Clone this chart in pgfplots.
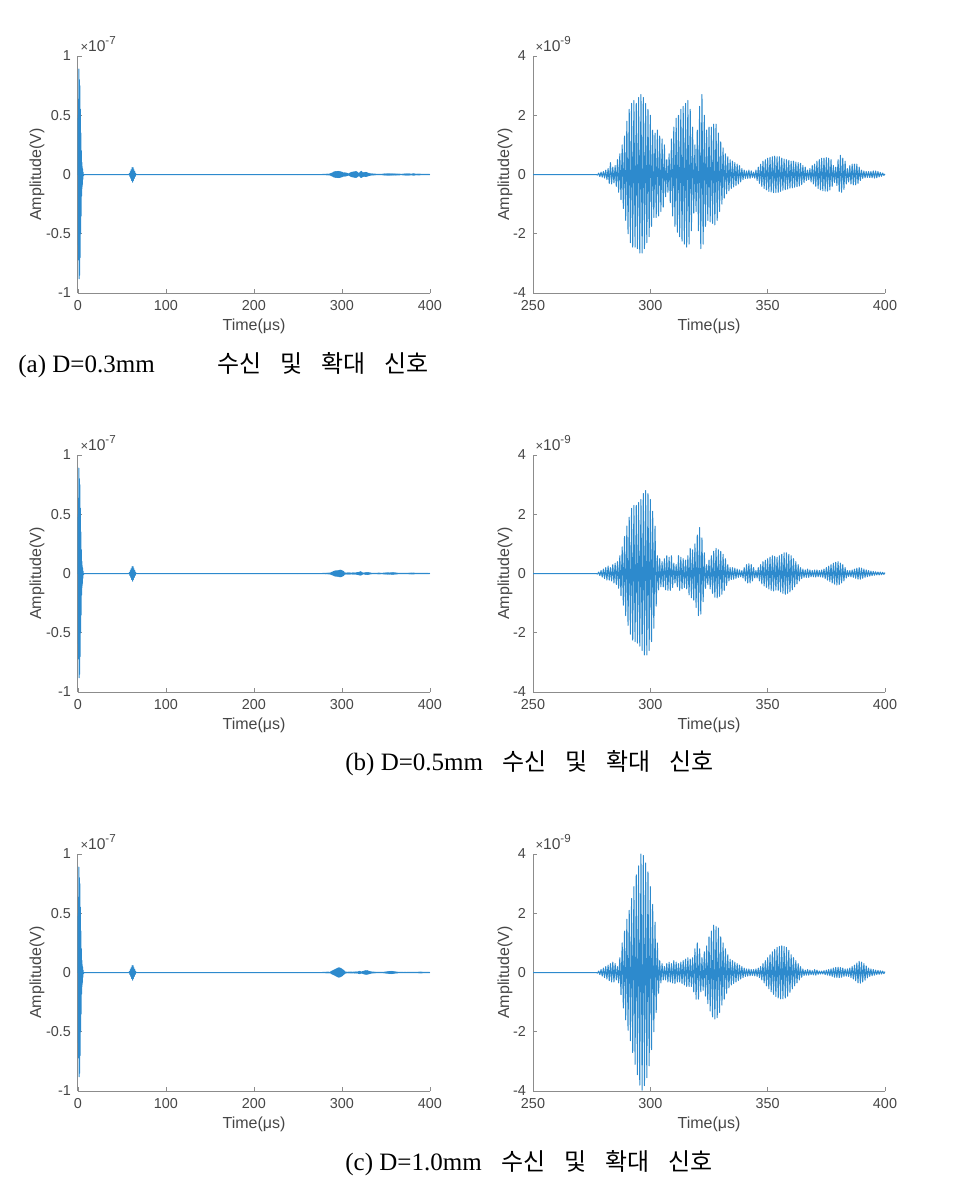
\documentclass[border=0pt]{standalone}
\usepackage{fontspec}
\setmainfont{Liberation Serif}
\newfontfamily\axfont{Liberation Sans}
\newfontfamily\cjk{Noto Sans CJK KR}
\usepackage{pgfplots}
\usepackage{pgfplotstable}
\pgfplotsset{compat=1.18}

\definecolor{sigblue}{RGB}{45,138,205}
\definecolor{axgray}{RGB}{140,140,140}
\definecolor{labgray}{RGB}{70,70,70}

% received signal, 0-7 us and the 62 us packet (x 1e-7 V)
\pgfplotstableread[row sep=\\]{
t v\\
0 0\\ 0.3 0.5\\ 0.6 -0.72\\ 0.9 0.89\\ 1.2 -0.88\\ 1.5 0.8\\ 1.8 -0.85\\ 2.1 0.75\\
2.4 -0.7\\ 2.7 0.55\\ 3.0 -0.5\\ 3.3 0.35\\ 3.6 -0.35\\ 3.9 0.2\\ 4.2 -0.18\\ 4.5 0.1\\
4.8 -0.1\\ 5.1 0.05\\ 5.4 -0.04\\ 5.7 0.02\\ 6 -0.01\\ 7 0\\ 58 0\\
58.5 0.008\\ 59 -0.016\\ 59.5 0.024\\ 60 -0.032\\ 60.5 0.04\\ 61 -0.05\\ 61.5 0.058\\
62 -0.065\\ 62.5 0.058\\ 63 -0.05\\ 63.5 0.04\\ 64 -0.032\\ 64.5 0.024\\ 65 -0.016\\
65.5 0.008\\ 66 0\\ 250 0\\
}\tabL

% zoomed signals 250-400 us (x 1e-9 V)
\pgfplotstableread[row sep=\\]{
t v\\
250 0\\ 276.5 0\\
277 0\\ 277.5 -0.02\\ 278 0.05\\ 278.5 -0.07\\ 279 0.08\\ 279.5 -0.09\\ 280 0.1\\ 280.5 -0.12\\
281 0.15\\ 281.5 -0.17\\ 282 0.2\\ 282.5 -0.3\\ 283 0.4\\ 283.5 -0.32\\ 284 0.25\\ 284.5 -0.28\\
285 0.3\\ 285.5 -0.4\\ 286 0.5\\ 286.5 -0.6\\ 287 0.7\\ 287.5 -0.85\\ 288 1.0\\ 288.5 -1.15\\
289 1.3\\ 289.5 -1.55\\ 290 1.8\\ 290.5 -2.0\\ 291 2.2\\ 291.5 -2.3\\ 292 2.4\\ 292.5 -2.45\\
293 2.5\\ 293.5 -2.45\\ 294 2.4\\ 294.5 -2.5\\ 295 2.6\\ 295.5 -2.65\\ 296 2.7\\ 296.5 -2.65\\
297 2.6\\ 297.5 -2.5\\ 298 2.4\\ 298.5 -2.3\\ 299 2.2\\ 299.5 -2.1\\ 300 2.0\\ 300.5 -1.75\\
301 1.5\\ 301.5 -1.45\\ 302 1.4\\ 302.5 -1.45\\ 303 1.5\\ 303.5 -1.4\\ 304 1.3\\ 304.5 -1.25\\
305 1.2\\ 305.5 -1.1\\ 306 1.0\\ 306.5 -0.75\\ 307 0.5\\ 307.5 -0.6\\ 308 0.7\\ 308.5 -0.95\\
309 1.2\\ 309.5 -1.4\\ 310 1.6\\ 310.5 -1.75\\ 311 1.9\\ 311.5 -1.95\\ 312 2.0\\ 312.5 -2.1\\
313 2.2\\ 313.5 -2.25\\ 314 2.3\\ 314.5 -2.35\\ 315 2.4\\ 315.5 -2.45\\ 316 2.5\\ 316.5 -2.35\\
317 2.2\\ 317.5 -1.9\\ 318 1.6\\ 318.5 -1.3\\ 319 1.0\\ 319.5 -1.25\\ 320 1.5\\ 320.5 -1.9\\
321 2.3\\ 321.5 -2.5\\ 322 2.7\\ 322.5 -2.35\\ 323 2.0\\ 323.5 -1.75\\ 324 1.5\\ 324.5 -1.55\\
325 1.6\\ 325.5 -1.6\\ 326 1.6\\ 326.5 -1.65\\ 327 1.7\\ 327.5 -1.7\\ 328 1.7\\ 328.5 -1.55\\
329 1.4\\ 329.5 -1.25\\ 330 1.1\\ 330.5 -1.0\\ 331 0.9\\ 331.5 -0.8\\ 332 0.7\\ 332.5 -0.65\\
333 0.6\\ 333.5 -0.55\\ 334 0.5\\ 334.5 -0.47\\ 335 0.45\\ 335.5 -0.42\\ 336 0.4\\ 336.5 -0.37\\
337 0.35\\ 337.5 -0.32\\ 338 0.3\\ 338.5 -0.25\\ 339 0.2\\ 339.5 -0.17\\ 340 0.15\\ 340.5 -0.13\\
341 0.12\\ 341.5 -0.13\\ 342 0.15\\ 342.5 -0.13\\ 343 0.12\\ 343.5 -0.1\\ 344 0.08\\ 344.5 -0.12\\
345 0.15\\ 345.5 -0.2\\ 346 0.25\\ 346.5 -0.3\\ 347 0.35\\ 347.5 -0.4\\ 348 0.45\\ 348.5 -0.47\\
349 0.5\\ 349.5 -0.52\\ 350 0.55\\ 350.5 -0.57\\ 351 0.58\\ 351.5 -0.59\\ 352 0.6\\ 352.5 -0.61\\
353 0.62\\ 353.5 -0.61\\ 354 0.6\\ 354.5 -0.6\\ 355 0.6\\ 355.5 -0.57\\ 356 0.55\\ 356.5 -0.53\\
357 0.52\\ 357.5 -0.51\\ 358 0.5\\ 358.5 -0.49\\ 359 0.48\\ 359.5 -0.46\\ 360 0.45\\ 360.5 -0.45\\
361 0.45\\ 361.5 -0.43\\ 362 0.42\\ 362.5 -0.41\\ 363 0.4\\ 363.5 -0.39\\ 364 0.38\\ 364.5 -0.34\\
365 0.3\\ 365.5 -0.27\\ 366 0.25\\ 366.5 -0.2\\ 367 0.15\\ 367.5 -0.17\\ 368 0.2\\ 368.5 -0.25\\
369 0.3\\ 369.5 -0.32\\ 370 0.35\\ 370.5 -0.4\\ 371 0.45\\ 371.5 -0.47\\ 372 0.5\\ 372.5 -0.52\\
373 0.55\\ 373.5 -0.55\\ 374 0.55\\ 374.5 -0.56\\ 375 0.57\\ 375.5 -0.56\\ 376 0.55\\ 376.5 -0.52\\
377 0.5\\ 377.5 -0.4\\ 378 0.3\\ 378.5 -0.27\\ 379 0.25\\ 379.5 -0.37\\ 380 0.5\\ 380.5 -0.57\\
381 0.65\\ 381.5 -0.6\\ 382 0.55\\ 382.5 -0.5\\ 383 0.45\\ 383.5 -0.32\\ 384 0.2\\ 384.5 -0.25\\
385 0.3\\ 385.5 -0.32\\ 386 0.35\\ 386.5 -0.35\\ 387 0.35\\ 387.5 -0.35\\ 388 0.35\\ 388.5 -0.3\\
389 0.25\\ 389.5 -0.2\\ 390 0.15\\ 390.5 -0.13\\ 391 0.12\\ 391.5 -0.11\\ 392 0.1\\ 392.5 -0.1\\
393 0.1\\ 393.5 -0.1\\ 394 0.1\\ 394.5 -0.11\\ 395 0.12\\ 395.5 -0.12\\ 396 0.12\\ 396.5 -0.11\\
397 0.1\\ 397.5 -0.08\\ 398 0.07\\ 398.5 -0.06\\ 399 0.05\\ 399.5 -0.03\\ 400 0.02\\
}\tabA

\pgfplotstableread[row sep=\\]{
t v\\
250 0\\ 276.5 0\\
277 0\\ 277.5 -0.02\\ 278 0.05\\ 278.5 -0.07\\ 279 0.1\\ 279.5 -0.12\\ 280 0.15\\ 280.5 -0.17\\
281 0.2\\ 281.5 -0.22\\ 282 0.25\\ 282.5 -0.22\\ 283 0.2\\ 283.5 -0.25\\ 284 0.3\\ 284.5 -0.32\\
285 0.35\\ 285.5 -0.37\\ 286 0.4\\ 286.5 -0.5\\ 287 0.6\\ 287.5 -0.75\\ 288 0.9\\ 288.5 -1.07\\
289 1.25\\ 289.5 -1.42\\ 290 1.6\\ 290.5 -1.75\\ 291 1.9\\ 291.5 -2.05\\ 292 2.2\\ 292.5 -2.25\\
293 2.3\\ 293.5 -2.3\\ 294 2.3\\ 294.5 -2.35\\ 295 2.4\\ 295.5 -2.45\\ 296 2.5\\ 296.5 -2.6\\
297 2.7\\ 297.5 -2.75\\ 298 2.8\\ 298.5 -2.75\\ 299 2.7\\ 299.5 -2.6\\ 300 2.5\\ 300.5 -2.3\\
301 2.1\\ 301.5 -1.85\\ 302 1.6\\ 302.5 -1.1\\ 303 0.6\\ 303.5 -0.55\\ 304 0.5\\ 304.5 -0.45\\
305 0.4\\ 305.5 -0.45\\ 306 0.5\\ 306.5 -0.55\\ 307 0.6\\ 307.5 -0.57\\ 308 0.55\\ 308.5 -0.57\\
309 0.6\\ 309.5 -0.47\\ 310 0.35\\ 310.5 -0.32\\ 311 0.3\\ 311.5 -0.45\\ 312 0.6\\ 312.5 -0.57\\
313 0.55\\ 313.5 -0.52\\ 314 0.5\\ 314.5 -0.47\\ 315 0.45\\ 315.5 -0.52\\ 316 0.6\\ 316.5 -0.72\\
317 0.85\\ 317.5 -0.82\\ 318 0.8\\ 318.5 -0.9\\ 319 1.0\\ 319.5 -1.15\\ 320 1.3\\ 320.5 -1.42\\
321 1.55\\ 321.5 -1.37\\ 322 1.2\\ 322.5 -0.95\\ 323 0.7\\ 323.5 -0.5\\ 324 0.3\\ 324.5 -0.37\\
325 0.45\\ 325.5 -0.52\\ 326 0.6\\ 326.5 -0.67\\ 327 0.75\\ 327.5 -0.8\\ 328 0.85\\ 328.5 -0.82\\
329 0.8\\ 329.5 -0.77\\ 330 0.75\\ 330.5 -0.7\\ 331 0.65\\ 331.5 -0.57\\ 332 0.5\\ 332.5 -0.4\\
333 0.3\\ 333.5 -0.25\\ 334 0.2\\ 334.5 -0.2\\ 335 0.2\\ 335.5 -0.19\\ 336 0.18\\ 336.5 -0.16\\
337 0.15\\ 337.5 -0.13\\ 338 0.12\\ 338.5 -0.11\\ 339 0.1\\ 339.5 -0.15\\ 340 0.2\\ 340.5 -0.25\\
341 0.3\\ 341.5 -0.32\\ 342 0.33\\ 342.5 -0.32\\ 343 0.3\\ 343.5 -0.25\\ 344 0.2\\ 344.5 -0.15\\
345 0.1\\ 345.5 -0.15\\ 346 0.2\\ 346.5 -0.25\\ 347 0.3\\ 347.5 -0.35\\ 348 0.4\\ 348.5 -0.42\\
349 0.45\\ 349.5 -0.47\\ 350 0.5\\ 350.5 -0.52\\ 351 0.55\\ 351.5 -0.57\\ 352 0.6\\ 352.5 -0.59\\
353 0.58\\ 353.5 -0.56\\ 354 0.55\\ 354.5 -0.57\\ 355 0.6\\ 355.5 -0.62\\ 356 0.65\\ 356.5 -0.67\\
357 0.7\\ 357.5 -0.7\\ 358 0.7\\ 358.5 -0.67\\ 359 0.65\\ 359.5 -0.62\\ 360 0.6\\ 360.5 -0.55\\
361 0.5\\ 361.5 -0.45\\ 362 0.4\\ 362.5 -0.35\\ 363 0.3\\ 363.5 -0.25\\ 364 0.2\\ 364.5 -0.17\\
365 0.15\\ 365.5 -0.13\\ 366 0.12\\ 366.5 -0.13\\ 367 0.15\\ 367.5 -0.13\\ 368 0.12\\ 368.5 -0.11\\
369 0.1\\ 369.5 -0.11\\ 370 0.12\\ 370.5 -0.12\\ 371 0.12\\ 371.5 -0.11\\ 372 0.1\\ 372.5 -0.11\\
373 0.12\\ 373.5 -0.13\\ 374 0.15\\ 374.5 -0.17\\ 375 0.2\\ 375.5 -0.22\\ 376 0.25\\ 376.5 -0.27\\
377 0.3\\ 377.5 -0.32\\ 378 0.35\\ 378.5 -0.36\\ 379 0.38\\ 379.5 -0.39\\ 380 0.4\\ 380.5 -0.37\\
381 0.35\\ 381.5 -0.32\\ 382 0.3\\ 382.5 -0.25\\ 383 0.2\\ 383.5 -0.15\\ 384 0.1\\ 384.5 -0.1\\
385 0.1\\ 385.5 -0.11\\ 386 0.12\\ 386.5 -0.13\\ 387 0.15\\ 387.5 -0.16\\ 388 0.18\\ 388.5 -0.19\\
389 0.2\\ 389.5 -0.19\\ 390 0.18\\ 390.5 -0.16\\ 391 0.15\\ 391.5 -0.13\\ 392 0.12\\ 392.5 -0.11\\
393 0.1\\ 393.5 -0.09\\ 394 0.08\\ 394.5 -0.07\\ 395 0.07\\ 395.5 -0.06\\ 396 0.06\\ 396.5 -0.05\\
397 0.05\\ 397.5 -0.05\\ 398 0.05\\ 398.5 -0.04\\ 399 0.04\\ 399.5 -0.03\\ 400 0.03\\
}\tabB

\pgfplotstableread[row sep=\\]{
t v\\
250 0\\ 276.5 0\\
277 0\\ 277.5 -0.02\\ 278 0.05\\ 278.5 -0.07\\ 279 0.1\\ 279.5 -0.12\\ 280 0.15\\ 280.5 -0.17\\
281 0.2\\ 281.5 -0.22\\ 282 0.25\\ 282.5 -0.27\\ 283 0.3\\ 283.5 -0.32\\ 284 0.35\\ 284.5 -0.32\\
285 0.3\\ 285.5 -0.25\\ 286 0.2\\ 286.5 -0.35\\ 287 0.5\\ 287.5 -0.75\\ 288 1.0\\ 288.5 -1.2\\
289 1.4\\ 289.5 -1.6\\ 290 1.8\\ 290.5 -1.95\\ 291 2.1\\ 291.5 -2.3\\ 292 2.5\\ 292.5 -2.7\\
293 2.9\\ 293.5 -3.1\\ 294 3.3\\ 294.5 -3.45\\ 295 3.6\\ 295.5 -3.8\\ 296 4.0\\ 296.5 -3.97\\
297 3.95\\ 297.5 -3.82\\ 298 3.7\\ 298.5 -3.55\\ 299 3.4\\ 299.5 -3.15\\ 300 2.9\\ 300.5 -2.6\\
301 2.3\\ 301.5 -2.0\\ 302 1.7\\ 302.5 -1.35\\ 303 1.0\\ 303.5 -0.7\\ 304 0.4\\ 304.5 -0.35\\
305 0.3\\ 305.5 -0.25\\ 306 0.2\\ 306.5 -0.25\\ 307 0.3\\ 307.5 -0.32\\ 308 0.35\\ 308.5 -0.32\\
309 0.3\\ 309.5 -0.35\\ 310 0.4\\ 310.5 -0.37\\ 311 0.35\\ 311.5 -0.32\\ 312 0.3\\ 312.5 -0.32\\
313 0.35\\ 313.5 -0.37\\ 314 0.4\\ 314.5 -0.42\\ 315 0.45\\ 315.5 -0.47\\ 316 0.5\\ 316.5 -0.47\\
317 0.45\\ 317.5 -0.47\\ 318 0.5\\ 318.5 -0.65\\ 319 0.8\\ 319.5 -0.9\\ 320 1.0\\ 320.5 -0.9\\
321 0.8\\ 321.5 -0.65\\ 322 0.5\\ 322.5 -0.6\\ 323 0.7\\ 323.5 -0.8\\ 324 0.9\\ 324.5 -1.05\\
325 1.2\\ 325.5 -1.3\\ 326 1.4\\ 326.5 -1.5\\ 327 1.6\\ 327.5 -1.57\\ 328 1.55\\ 328.5 -1.52\\
329 1.5\\ 329.5 -1.35\\ 330 1.2\\ 330.5 -1.1\\ 331 1.0\\ 331.5 -0.9\\ 332 0.8\\ 332.5 -0.7\\
333 0.6\\ 333.5 -0.52\\ 334 0.45\\ 334.5 -0.42\\ 335 0.4\\ 335.5 -0.37\\ 336 0.35\\ 336.5 -0.32\\
337 0.3\\ 337.5 -0.27\\ 338 0.25\\ 338.5 -0.22\\ 339 0.2\\ 339.5 -0.17\\ 340 0.15\\ 340.5 -0.13\\
341 0.12\\ 341.5 -0.12\\ 342 0.12\\ 342.5 -0.11\\ 343 0.1\\ 343.5 -0.1\\ 344 0.1\\ 344.5 -0.11\\
345 0.12\\ 345.5 -0.13\\ 346 0.15\\ 346.5 -0.17\\ 347 0.2\\ 347.5 -0.25\\ 348 0.3\\ 348.5 -0.35\\
349 0.4\\ 349.5 -0.45\\ 350 0.5\\ 350.5 -0.55\\ 351 0.6\\ 351.5 -0.65\\ 352 0.7\\ 352.5 -0.74\\
353 0.78\\ 353.5 -0.81\\ 354 0.85\\ 354.5 -0.86\\ 355 0.88\\ 355.5 -0.89\\ 356 0.9\\ 356.5 -0.89\\
357 0.88\\ 357.5 -0.86\\ 358 0.85\\ 358.5 -0.8\\ 359 0.75\\ 359.5 -0.67\\ 360 0.6\\ 360.5 -0.55\\
361 0.5\\ 361.5 -0.45\\ 362 0.4\\ 362.5 -0.35\\ 363 0.3\\ 363.5 -0.25\\ 364 0.2\\ 364.5 -0.16\\
365 0.12\\ 365.5 -0.1\\ 366 0.08\\ 366.5 -0.09\\ 367 0.1\\ 367.5 -0.09\\ 368 0.08\\ 368.5 -0.07\\
369 0.06\\ 369.5 -0.08\\ 370 0.1\\ 370.5 -0.09\\ 371 0.08\\ 371.5 -0.06\\ 372 0.05\\ 372.5 -0.05\\
373 0.05\\ 373.5 -0.05\\ 374 0.06\\ 374.5 -0.07\\ 375 0.08\\ 375.5 -0.09\\ 376 0.1\\ 376.5 -0.11\\
377 0.12\\ 377.5 -0.13\\ 378 0.15\\ 378.5 -0.16\\ 379 0.17\\ 379.5 -0.17\\ 380 0.18\\ 380.5 -0.17\\
381 0.17\\ 381.5 -0.16\\ 382 0.15\\ 382.5 -0.13\\ 383 0.12\\ 383.5 -0.12\\ 384 0.12\\ 384.5 -0.13\\
385 0.15\\ 385.5 -0.17\\ 386 0.2\\ 386.5 -0.22\\ 387 0.25\\ 387.5 -0.28\\ 388 0.32\\ 388.5 -0.35\\
389 0.38\\ 389.5 -0.36\\ 390 0.35\\ 390.5 -0.32\\ 391 0.3\\ 391.5 -0.26\\ 392 0.22\\ 392.5 -0.18\\
393 0.15\\ 393.5 -0.13\\ 394 0.12\\ 394.5 -0.11\\ 395 0.1\\ 395.5 -0.09\\ 396 0.08\\ 396.5 -0.07\\
397 0.07\\ 397.5 -0.06\\ 398 0.06\\ 398.5 -0.05\\ 399 0.05\\ 399.5 -0.04\\ 400 0.03\\
}\tabC

\pgfplotsset{
  sig/.style={color=sigblue, line width=0.5pt, line join=round},
  panel/.style={
    scale only axis, width=176pt, height=118.5pt,
    axis x line*=bottom, axis y line*=left,
    axis line style={draw=axgray, line width=0.5pt, -},
    tick align=inside, major tick length=2pt,
    tick style={draw=axgray, line width=0.4pt},
    ticklabel style={font=\axfont\fontsize{7.2}{8}\selectfont, text=labgray},
    label style={font=\axfont\fontsize{8}{9}\selectfont, text=labgray},
    xlabel={Time(μs)}, ylabel={Amplitude(V)},
    xlabel style={at={(axis description cs:0.5,-0.139)}, anchor=center},
    scaled ticks=false, clip=false,
  },
  leftpanel/.style={panel,
    xmin=0, xmax=400, ymin=-1, ymax=1,
    xtick={0,100,200,300,400}, xticklabels={0,100,200,300,400},
    ytick={-1,-0.5,0,0.5,1}, yticklabels={-1,-0.5,0,0.5,1},
    ylabel style={at={(axis description cs:-0.1165,0.5)}, anchor=center},
  },
  rightpanel/.style={panel,
    xmin=250, xmax=400, ymin=-4, ymax=4,
    xtick={250,300,350,400}, xticklabels={250,300,350,400},
    ytick={-4,-2,0,2,4}, yticklabels={-4,-2,0,2,4},
    ylabel style={at={(axis description cs:-0.0795,0.5)}, anchor=center},
  },
}

\newcommand{\mult}[1]{\node[anchor=base west, inner sep=0pt, text=labgray,
  font=\axfont\fontsize{7.8}{8}\selectfont] at (axis description cs:0.006,1.017)
  {{\fontsize{6.5}{6}\selectfont ×}10\raisebox{0.45em}{\fontsize{5.8}{6}\selectfont #1}};}

\begin{document}
\begin{tikzpicture}
\useasboundingbox (0,0) rectangle (487pt,-594.5pt);

% ---- (a) D=0.3mm
\begin{axis}[leftpanel, at={(39pt,-146.5pt)}, anchor=south west]
\addplot[sig] table[x=t, y=v] {\tabL};
\addplot[sig] table[x=t, y expr=\thisrow{v}/100] {\tabA};
\mult{-7}
\end{axis}
\begin{axis}[rightpanel, at={(266.5pt,-146.5pt)}, anchor=south west]
\addplot[sig] table[x=t, y=v] {\tabA};
\mult{-9}
\end{axis}

% ---- (b) D=0.5mm
\begin{axis}[leftpanel, at={(39pt,-346pt)}, anchor=south west]
\addplot[sig] table[x=t, y=v] {\tabL};
\addplot[sig] table[x=t, y expr=\thisrow{v}/100] {\tabB};
\mult{-7}
\end{axis}
\begin{axis}[rightpanel, at={(266.5pt,-346pt)}, anchor=south west]
\addplot[sig] table[x=t, y=v] {\tabB};
\mult{-9}
\end{axis}

% ---- (c) D=1.0mm
\begin{axis}[leftpanel, at={(39pt,-545.5pt)}, anchor=south west]
\addplot[sig] table[x=t, y=v] {\tabL};
\addplot[sig] table[x=t, y expr=\thisrow{v}/100] {\tabC};
\mult{-7}
\end{axis}
\begin{axis}[rightpanel, at={(266.5pt,-545.5pt)}, anchor=south west]
\addplot[sig] table[x=t, y=v] {\tabC};
\mult{-9}
\end{axis}

% captions
\node[anchor=base west, inner sep=0pt, font=\fontsize{12.5}{14}\selectfont] at (9pt,-186pt) {(a)\ D=0.3mm};
\node[anchor=base west, inner sep=0pt, font=\cjk\fontsize{12}{14}\selectfont] at (108.5pt,-186pt) {수신\hspace{9.5pt}및\hspace{9.5pt}확대\hspace{9.5pt}신호};
\node[anchor=base west, inner sep=0pt, font=\fontsize{12.5}{14}\selectfont] at (172.5pt,-385pt) {(b) D=0.5mm};
\node[anchor=base west, inner sep=0pt, font=\cjk\fontsize{12}{14}\selectfont] at (251pt,-385pt) {수신\hspace{9.5pt}및\hspace{9.5pt}확대\hspace{9.5pt}신호};
\node[anchor=base west, inner sep=0pt, font=\fontsize{12.5}{14}\selectfont] at (172.5pt,-585pt) {(c) D=1.0mm};
\node[anchor=base west, inner sep=0pt, font=\cjk\fontsize{12}{14}\selectfont] at (250.5pt,-585pt) {수신\hspace{9.5pt}및\hspace{9.5pt}확대\hspace{9.5pt}신호};
\end{tikzpicture}
\end{document}
